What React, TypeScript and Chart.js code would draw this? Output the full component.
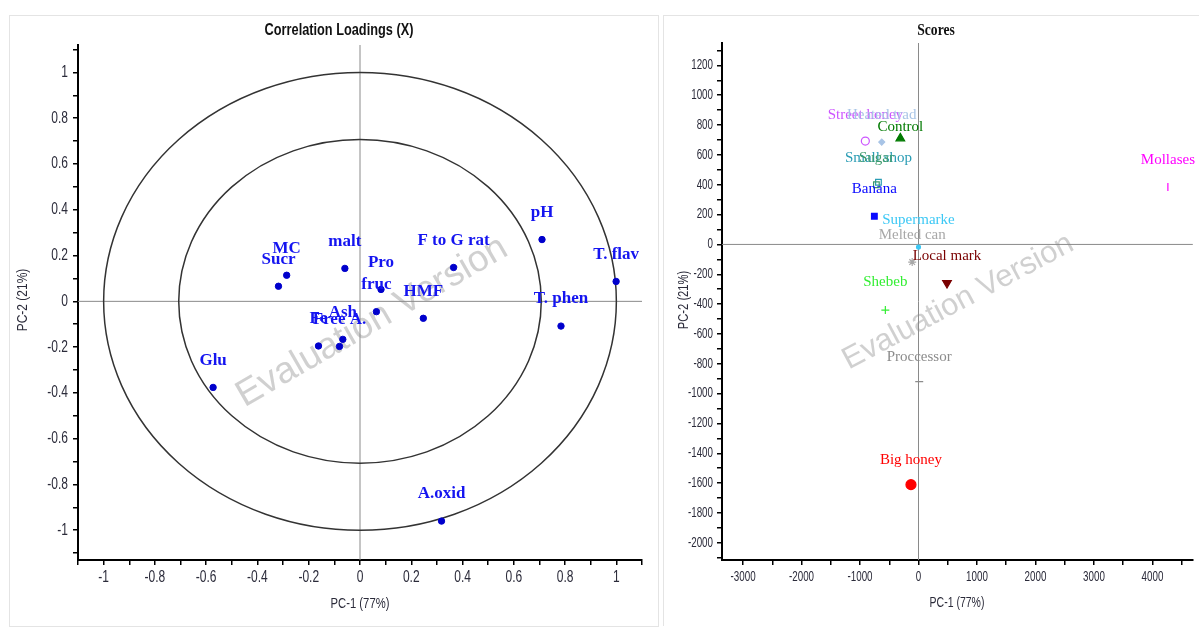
import React, { useEffect, useRef } from "react";
import { Chart, registerables } from "chart.js";
Chart.register(...registerables);

// ---------- Correlation loadings (left) ----------
const LOAD_NAMES = ["Glu", "Sucr", "MC", "malt", "Pro", "fruc", "Ash", "Free A.", "Fe", "HMF", "F to G rat", "pH", "T. phen", "T. flav", "A.oxid"];
const LOAD_PC1 = [-0.573, -0.318, -0.286, -0.059, 0.082, 0.064, -0.067, -0.08, -0.162, 0.247, 0.365, 0.71, 0.784, 0.999, 0.318];
const LOAD_PC2 = [-0.376, 0.066, 0.114, 0.144, 0.052, -0.045, -0.166, -0.197, -0.195, -0.074, 0.148, 0.27, -0.108, 0.087, -0.96];
const CIRCLE_RADII = [1, 0.7071];
const LOAD_MAJOR = [-1, -0.8, -0.6, -0.4, -0.2, 0, 0.2, 0.4, 0.6, 0.8, 1];
const LOAD_MINOR = [-1.1, -0.9, -0.7, -0.5, -0.3, -0.1, 0.1, 0.3, 0.5, 0.7, 0.9, 1.1];

// ---------- Scores (right) ----------
const SCORE_NAMES = ["Mollases", "Control", "Street honey", "Heated trad", "Small shop", "Sugar", "Banana", "Supermarke", "Melted can", "Local mark", "Shebeb", "Proccessor", "Big honey"];
const SCORE_PC1 = [4264, -311, -909, -629, -685, -720, -755, 0, -108, 487, -567, 12, -129];
const SCORE_PC2 = [385, 711, 693, 686, 417, 400, 189, -18, -118, -259, -440, -920, -1610];
const SCORE_X_MAJOR = [-3000, -2000, -1000, 0, 1000, 2000, 3000, 4000];
const SCORE_X_MINOR = [-2500, -1500, -500, 500, 1500, 2500, 3500, 4500];
const SCORE_Y_MAJOR = [-2000, -1800, -1600, -1400, -1200, -1000, -800, -600, -400, -200, 0, 200, 400, 600, 800, 1000, 1200];
const SCORE_Y_MINOR = [-2100, -1900, -1700, -1500, -1300, -1100, -900, -700, -500, -300, -100, 100, 300, 500, 700, 900, 1100, 1300];

// ---------- styles ----------
const SCORE_COLORS = ["#FF00FF", "#007A00", "#CC55FF", "#A8C4E6", "#2A9CB4", "#3C9A6C", "#0A0AFF", "#3CC8F5", "#A8A8A8", "#7A0000", "#33EE33", "#8C8C8C", "#FF0000"];
const SCORE_MARKERS = ["line", "triangle", "circle", "rectRot", "rect", "rect", "rect", "circle", "star", "triangle", "cross", "line", "circle"];
const SCORE_ROT = [90, 0, 0, 0, 0, 0, 0, 0, 0, 180, 0, 0, 0];
const SCORE_FILLED = [true, true, false, true, false, false, true, true, false, true, false, false, true];
const SCORE_RADIUS = [4, 5, 4, 3, 4, 4, 4, 2, 4, 5, 4, 4, 5];
const SCORE_LABEL_DY = [-27, -11, -26, -27, -24, -27, -27, -27, -27, -27, -28, -25, -25];

const SANS = '"Liberation Sans", Arial, sans-serif';
const SERIF = '"Liberation Serif", "Times New Roman", serif';
const TEXT_COLOR = "#2b2b3a";

function makeAxis(min: number, max: number, major: number[], minor: number[], isY: boolean, size: number) {
  return {
    type: "linear",
    position: isY ? "left" : "bottom",
    min,
    max,
    afterBuildTicks: (s: any) => {
      s.ticks = [...major, ...minor].sort((a, b) => a - b).map((v) => ({ value: v }));
    },
    afterFit: (s: any) => {
      if (isY) s.width = size;
      else s.height = size;
    },
    ticks: { autoSkip: false, maxRotation: 0, minRotation: 0, callback: () => "" },
    grid: { drawOnChartArea: false, drawTicks: true, tickLength: 5, color: "#000", lineWidth: 1.5 },
    border: { display: true, color: "#000", width: 2 },
  };
}

function narrowText(ctx: CanvasRenderingContext2D, text: string, x: number, y: number, align: CanvasTextAlign, sx: number, rot = 0) {
  ctx.save();
  ctx.translate(x, y);
  if (rot) ctx.rotate(rot);
  ctx.scale(sx, 1);
  ctx.textAlign = align;
  ctx.textBaseline = "middle";
  ctx.fillText(text, 0, 0);
  ctx.restore();
}

function drawTickLabels(chart: any, xMajor: number[], yMajor: number[], size: number, sx: number, xGap: number, yGap: number) {
  const { ctx, chartArea: a, scales } = chart;
  ctx.save();
  ctx.fillStyle = TEXT_COLOR;
  ctx.font = `${size}px ${SANS}`;
  for (const v of xMajor) narrowText(ctx, String(v), scales.x.getPixelForValue(v), a.bottom + xGap, "center", sx);
  for (const v of yMajor) narrowText(ctx, String(v), a.left - yGap, scales.y.getPixelForValue(v), "right", sx);
  ctx.restore();
}

function drawWatermark(ctx: CanvasRenderingContext2D, cx: number, cy: number, size: number, angle: number) {
  ctx.save();
  ctx.translate(cx, cy);
  ctx.rotate((angle * Math.PI) / 180);
  ctx.font = `${size}px ${SANS}`;
  ctx.fillStyle = "rgba(170,170,170,0.55)";
  ctx.textAlign = "center";
  ctx.textBaseline = "middle";
  ctx.fillText("Evaluation Version", 0, 0);
  ctx.restore();
}

function drawAxisTitles(ctx: CanvasRenderingContext2D, size: number, xt: [number, number], yt: [number, number]) {
  ctx.save();
  ctx.fillStyle = TEXT_COLOR;
  ctx.font = `${size}px ${SANS}`;
  narrowText(ctx, "PC-1 (77%)", xt[0], xt[1], "center", 0.75);
  narrowText(ctx, "PC-2 (21%)", yt[0], yt[1], "center", 0.8, -Math.PI / 2);
  ctx.restore();
}

function drawZeroLines(chart: any) {
  const { ctx, chartArea: a, scales } = chart;
  const x0 = scales.x.getPixelForValue(0), y0 = scales.y.getPixelForValue(0);
  ctx.save();
  ctx.strokeStyle = "#8a8a8a";
  ctx.lineWidth = 1;
  ctx.beginPath();
  ctx.moveTo(x0, a.top);
  ctx.lineTo(x0, a.bottom);
  ctx.moveTo(a.left, y0);
  ctx.lineTo(a.right, y0);
  ctx.stroke();
  ctx.restore();
}

const loadPlugin = {
  id: "loadDeco",
  beforeDatasetsDraw(chart: any) {
    const { ctx, scales } = chart;
    const x = scales.x, y = scales.y;
    const x0 = x.getPixelForValue(0), y0 = y.getPixelForValue(0);
    drawWatermark(ctx, 362, 306, 37, -30);
    drawZeroLines(chart);
    ctx.save();
    ctx.strokeStyle = "#333";
    ctx.lineWidth = 1.5;
    for (const r of CIRCLE_RADII) {
      const rx = x.getPixelForValue(r) - x0;
      const ry = y0 - y.getPixelForValue(r);
      ctx.beginPath();
      ctx.ellipse(x0, y0, rx, ry, 0, 0, Math.PI * 2);
      ctx.stroke();
    }
    ctx.restore();
  },
  afterDatasetsDraw(chart: any) {
    const { ctx } = chart;
    const meta = chart.getDatasetMeta(0);
    ctx.save();
    ctx.font = `bold 17px ${SERIF}`;
    ctx.fillStyle = "#1414F0";
    ctx.textAlign = "center";
    ctx.textBaseline = "middle";
    meta.data.forEach((pt: any, i: number) => {
      ctx.fillText(LOAD_NAMES[i], pt.x, pt.y - 27);
    });
    ctx.restore();
  },
  afterDraw(chart: any) {
    const { ctx } = chart;
    drawTickLabels(chart, LOAD_MAJOR, LOAD_MAJOR, 16, 0.75, 18, 10);
    ctx.save();
    ctx.font = `bold 17px ${SANS}`;
    ctx.fillStyle = "#111";
    narrowText(ctx, "Correlation Loadings (X)", 329, 14, "center", 0.75);
    ctx.restore();
    drawAxisTitles(ctx, 15, [350, 588], [13, 284]);
  },
};

const scorePlugin = {
  id: "scoreDeco",
  beforeDatasetsDraw(chart: any) {
    drawWatermark(chart.ctx, 294, 286, 31, -28);
    drawZeroLines(chart);
  },
  afterDatasetsDraw(chart: any) {
    const { ctx } = chart;
    const meta = chart.getDatasetMeta(0);
    ctx.save();
    ctx.font = `15px ${SERIF}`;
    ctx.textAlign = "center";
    ctx.textBaseline = "middle";
    meta.data.forEach((pt: any, i: number) => {
      ctx.fillStyle = SCORE_COLORS[i];
      ctx.fillText(SCORE_NAMES[i], pt.x, pt.y + SCORE_LABEL_DY[i]);
    });
    ctx.restore();
  },
  afterDraw(chart: any) {
    const { ctx } = chart;
    drawTickLabels(chart, SCORE_X_MAJOR, SCORE_Y_MAJOR, 14, 0.7, 17, 9);
    ctx.save();
    ctx.font = `bold 17px ${SERIF}`;
    ctx.fillStyle = "#111";
    narrowText(ctx, "Scores", 272, 15, "center", 0.8);
    ctx.restore();
    drawAxisTitles(ctx, 14, [293, 587], [20, 284]);
  },
};

function LoadingsChart() {
  const ref = useRef<HTMLCanvasElement>(null);
  useEffect(() => {
    const chart = new Chart(ref.current as HTMLCanvasElement, {
      type: "scatter",
      data: {
        datasets: [
          {
            data: LOAD_PC1.map((v, i) => ({ x: v, y: LOAD_PC2[i] })),
            backgroundColor: "#0000CC",
            borderColor: "#0000CC",
            pointRadius: 3.2,
          },
        ],
      },
      options: {
        animation: false,
        responsive: false,
        layout: { padding: { top: 29, right: 16, bottom: 0, left: 0 } },
        plugins: { legend: { display: false }, tooltip: { enabled: false } },
        scales: {
          x: makeAxis(-1.1, 1.1, LOAD_MAJOR, LOAD_MINOR, false, 66),
          y: makeAxis(-1.13, 1.12, LOAD_MAJOR, LOAD_MINOR, true, 68),
        } as any,
      },
      plugins: [loadPlugin],
    } as any);
    return () => chart.destroy();
  }, []);
  return <canvas ref={ref} width={648} height={610} style={{ width: 648, height: 610, display: "block" }} />;
}

function ScoresChart() {
  const ref = useRef<HTMLCanvasElement>(null);
  useEffect(() => {
    const chart = new Chart(ref.current as HTMLCanvasElement, {
      type: "scatter",
      data: {
        datasets: [
          {
            data: SCORE_PC1.map((v, i) => ({ x: v, y: SCORE_PC2[i] })),
            pointStyle: SCORE_MARKERS,
            pointRotation: SCORE_ROT,
            pointRadius: SCORE_RADIUS,
            borderColor: SCORE_COLORS,
            backgroundColor: SCORE_COLORS.map((c, i) => (SCORE_FILLED[i] ? c : "rgba(0,0,0,0)")),
            borderWidth: 1.2,
          },
        ],
      },
      options: {
        animation: false,
        responsive: false,
        layout: { padding: { top: 27, right: 4, bottom: 0, left: 0 } },
        plugins: { legend: { display: false }, tooltip: { enabled: false } },
        scales: {
          x: makeAxis(-3360, 4690, SCORE_X_MAJOR, SCORE_X_MINOR, false, 66),
          y: makeAxis(-2115, 1350, SCORE_Y_MAJOR, SCORE_Y_MINOR, true, 58),
        } as any,
      },
      plugins: [scorePlugin],
    } as any);
    return () => chart.destroy();
  }, []);
  return <canvas ref={ref} width={535} height={610} style={{ width: 535, height: 610, display: "block" }} />;
}

export default function App() {
  return (
    <div style={{ position: "absolute", left: 0, top: 0, width: 1199, height: 638, background: "#fff", overflow: "hidden" }}>
      <div style={{ position: "absolute", left: 9, top: 15, width: 648, height: 610, border: "1px solid #e4e4e4" }}>
        <LoadingsChart />
      </div>
      <div style={{ position: "absolute", left: 663, top: 15, width: 540, height: 610, borderLeft: "1px solid #e4e4e4", borderTop: "1px solid #e4e4e4" }}>
        <ScoresChart />
      </div>
    </div>
  );
}
